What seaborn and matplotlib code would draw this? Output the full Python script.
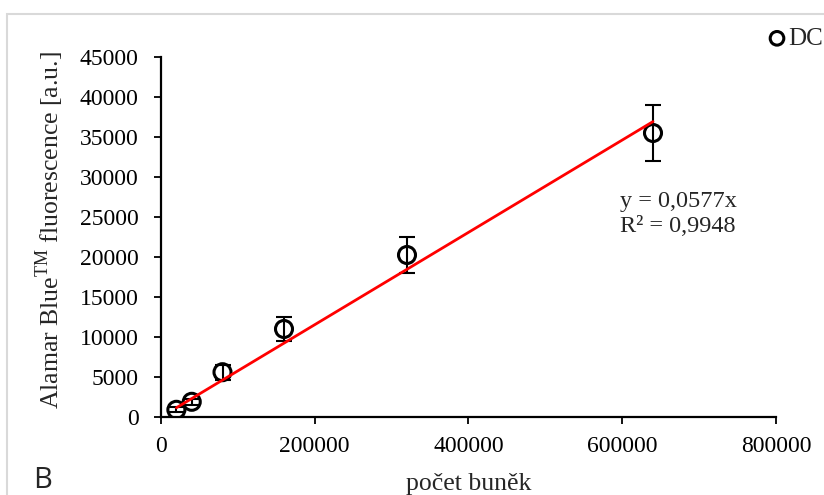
import numpy as np
import pandas as pd
import matplotlib
matplotlib.use("Agg")
import matplotlib.pyplot as plt
import seaborn as sns
from matplotlib.patches import Rectangle

# data
cells = [20000, 40000, 80000, 160000, 320000, 640000]
fluor = [900, 1900, 5600, 11000, 20250, 35500]
err = [300, 400, 950, 1450, 2200, 3450]
slope = 0.0577
r2 = 0.9948
x_ticks = [0, 200000, 400000, 600000, 800000]
y_ticks = [0, 5000, 10000, 15000, 20000, 25000, 30000, 35000, 40000, 45000]

df = pd.DataFrame({"cells": cells, "fluor": fluor, "err": err})
fit = pd.DataFrame({"cells": [cells[0], cells[-1]]})
fit["fluor"] = slope * fit["cells"]

sns.set_style("ticks")
plt.rcParams['font.family'] = ['Liberation Serif', 'DejaVu Serif']
plt.rcParams['mathtext.fontset'] = 'custom'
plt.rcParams['mathtext.rm'] = 'Liberation Serif'

fig = plt.figure(figsize=(8.24, 4.95), dpi=100)
ax = fig.add_axes([161/824, 1-417/495, (776-161)/824, (417-57)/495])

# frame around the whole chart area
fig.patches.append(Rectangle((7/824, -0.1), 1.2, 1-14/495+0.1, transform=fig.transFigure,
                             fill=False, edgecolor="#d9d9d9", linewidth=1.5, zorder=0))

ax.errorbar(df["cells"], df["fluor"], yerr=df["err"], fmt="none", ecolor="black",
            elinewidth=1.5, capsize=6, capthick=1.5, zorder=2)
sns.scatterplot(data=df, x="cells", y="fluor", ax=ax, marker="o", s=150,
                facecolor="none", edgecolor="black", linewidth=2.2, zorder=3, label="DC")
sns.lineplot(data=fit, x="cells", y="fluor", ax=ax, color="red", linewidth=2, zorder=4)

ax.set_xlim(0, 800000)
ax.set_ylim(0, 45000)
ax.set_xticks(x_ticks)
ax.set_yticks(y_ticks)
ax.tick_params(axis="both", labelsize=17, length=5, width=1.3, direction="out", colors="black")
ax.tick_params(axis="x", pad=9)
ax.tick_params(axis="y", pad=11)
for s in ["left", "bottom"]:
    ax.spines[s].set_linewidth(1.6)
    ax.spines[s].set_color("black")
sns.despine(ax=ax)

ax.set_xlabel("počet buněk", fontsize=18.5)
ax.xaxis.set_label_coords(0.5, -0.155)
ax.set_ylabel(r"Alamar Blue$^{\mathrm{TM}}$ fluorescence [a.u.]", fontsize=18.5)
ax.yaxis.set_label_coords(-0.155, 0.52)

ax.text(620/824, 1-237/495, "y = 0,0577x\nR² = " + f"{r2}".replace(".", ","),
        transform=fig.transFigure, fontsize=17.5, linespacing=1.25, va="bottom")

leg = ax.legend(loc="upper right", bbox_to_anchor=(1.017, 0.975), bbox_transform=fig.transFigure,
                frameon=False, fontsize=18, handletextpad=-0.55, borderpad=0.1, markerscale=0.8)

fig.text(33/824, 1-488/495, "B", fontsize=21, family=["Open Sans", "DejaVu Sans"])

fig.savefig("out.png", dpi=100)
